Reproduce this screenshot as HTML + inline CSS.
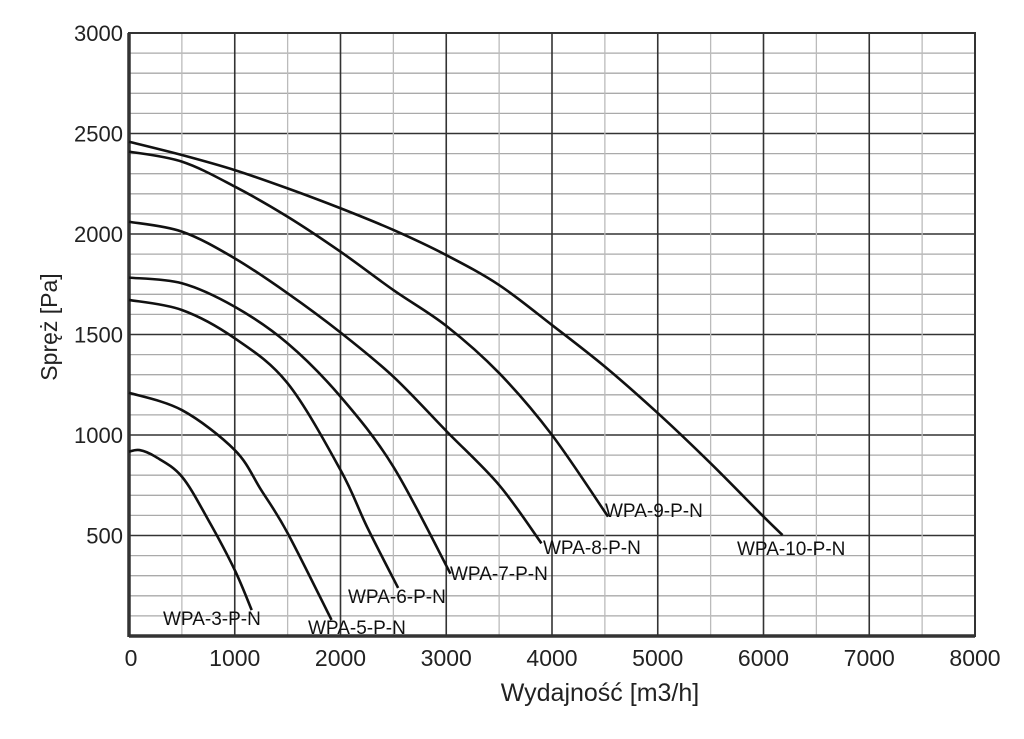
<!DOCTYPE html>
<html><head><meta charset="utf-8"><style>
html,body{margin:0;padding:0;background:#fff;}
svg text{font-family:"Liberation Sans",Arial,sans-serif;}
</style></head><body>
<svg id="chart" width="1024" height="734" viewBox="0 0 1024 734" xmlns="http://www.w3.org/2000/svg">
<g id="grid"></g>
<g id="curves"></g>
<g id="ticks"></g>
<text x="600" y="701" font-size="25" text-anchor="middle" fill="#222">Wydajność [m3/h]</text>
<text transform="translate(57,327) rotate(-90)" font-size="23" text-anchor="middle" fill="#222">Spręż [Pa]</text>
</svg>
<script>
const xTicks=[0,1000,2000,3000,4000,5000,6000,7000,8000];
const yTicks=[500,1000,1500,2000,2500,3000];
const seriesNames=["WPA-3-P-N","WPA-5-P-N","WPA-6-P-N","WPA-7-P-N","WPA-8-P-N","WPA-9-P-N","WPA-10-P-N"];
const s3x=[0,100,250,500,750,1000,1160], s3y=[917,925,892,793,577,328,129];
const s5x=[0,500,1000,1250,1500,1915], s5y=[1210,1124,925,726,512,80];
const s6x=[0,500,1000,1500,2000,2250,2545], s6y=[1672,1622,1481,1257,826,544,239];
const s7x=[0,500,1000,1500,2000,2500,3040], s7y=[1783,1755,1638,1456,1191,842,310];
const s8x=[0,500,1000,1500,2000,2500,3000,3500,3900], s8y=[2061,2012,1879,1705,1510,1290,1020,751,461];
const s9x=[0,500,1000,1500,2000,2500,3000,3500,4000,4530], s9y=[2410,2360,2236,2086,1912,1721,1543,1308,1000,594];
const s10x=[0,500,1000,1500,2000,2500,3000,3500,4000,4500,5000,5500,6000,6180], s10y=[2459,2393,2318,2227,2128,2020,1895,1746,1547,1340,1109,859,594,502];
const seriesX=[s3x,s5x,s6x,s7x,s8x,s9x,s10x];
const seriesY=[s3y,s5y,s6y,s7y,s8y,s9y,s10y];
const labelPos=[[163,625],[308,634],[348,603],[450,580],[543,554],[605,517],[737,555]];

const L=129,R=975,T=33,B=636;
const X=v=>L+(v/8000)*(R-L);
const Y=v=>B-(v/3000)*(B-T);
const NS="http://www.w3.org/2000/svg";
function mk(tag,attrs,parent){const e=document.createElementNS(NS,tag);for(const k in attrs)e.setAttribute(k,attrs[k]);parent.appendChild(e);return e;}
const grid=document.getElementById('grid'),curves=document.getElementById('curves'),ticks=document.getElementById('ticks');
for(let v=100;v<3000;v+=100){
  const major=v%500===0;
  const l=mk('line',{x1:L,x2:R,y1:Y(v),y2:Y(v),stroke:major?'#333':'#aaa','stroke-width':major?1.6:1.3},grid);
  
  
}
for(let v=500;v<8000;v+=500){
  const major=v%1000===0;
  const l=mk('line',{x1:X(v),x2:X(v),y1:T,y2:B,stroke:major?'#333':'#bbb','stroke-width':major?1.6:1.3},grid);
  
  
}
const fr=mk('rect',{x:L,y:T,width:R-L,height:B-T,fill:'none',stroke:'#333','stroke-width':2},grid);


const lax=mk('line',{x1:L,x2:L,y1:T,y2:B+1,stroke:'#333','stroke-width':3.5},grid);


const bax=mk('line',{x1:L,x2:R,y1:B,y2:B,stroke:'#333','stroke-width':3.5},grid);



xTicks.forEach((v,i)=>{
  const t=mk('text',{x:X(v)+(i===0?2:0),y:666,'font-size':23,'text-anchor':'middle',fill:'#222'},ticks);
  t.textContent=v;
  
  
});
yTicks.forEach(v=>{
  const t=mk('text',{x:123,y:Y(v)+8,'font-size':22,'text-anchor':'end',fill:'#222'},ticks);
  t.textContent=v;
  
  
});

function pathFor(xs,ys){
  const p=xs.map((x,i)=>[X(x),Y(ys[i])]);
  let d=`M${p[0][0]},${p[0][1]}`;
  for(let i=0;i<p.length-1;i++){
    const p0=p[i-1]||p[i],p1=p[i],p2=p[i+1],p3=p[i+2]||p2;
    const c1=[p1[0]+(p2[0]-p0[0])/6,p1[1]+(p2[1]-p0[1])/6];
    const c2=[p2[0]-(p3[0]-p1[0])/6,p2[1]-(p3[1]-p1[1])/6];
    d+=` C${c1[0]},${c1[1]} ${c2[0]},${c2[1]} ${p2[0]},${p2[1]}`;
  }
  return d;
}
seriesNames.forEach((n,i)=>{
  const p=mk('path',{d:pathFor(seriesX[i],seriesY[i]),fill:'none',stroke:'#111','stroke-width':2.6,'stroke-linejoin':'round'},curves);
  
  
  const t=mk('text',{x:labelPos[i][0],y:labelPos[i][1],'font-size':19,fill:'#111'},curves);
  t.textContent=n;
  
  
});
</script>
</body></html>
